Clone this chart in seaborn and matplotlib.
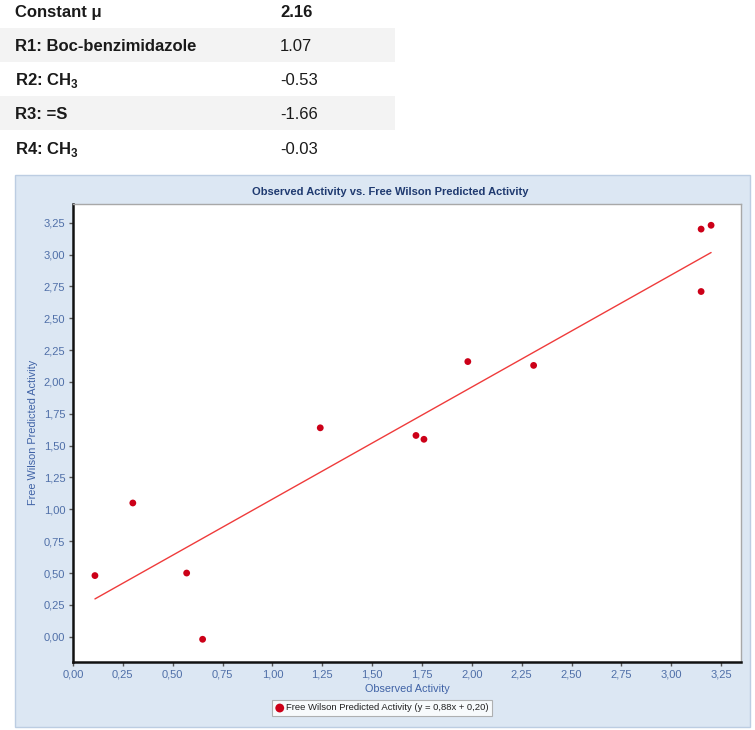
import matplotlib
matplotlib.use("Agg")
import matplotlib.pyplot as plt
import seaborn as sns
import pandas as pd
from matplotlib.patches import Rectangle
from matplotlib.ticker import FuncFormatter, MultipleLocator

# Free Wilson contributions (table above the chart)
term_labels = ["Constant μ", "R1: Boc-benzimidazole", r"R2: CH$_\mathregular{3}$",
               "R3: =S", r"R4: CH$_\mathregular{3}$"]
term_values = ["2.16", "1.07", "-0.53", "-1.66", "-0.03"]

# scatter data
observed = [0.11, 0.30, 0.57, 0.65, 1.24, 1.72, 1.76, 1.98, 2.31, 3.15, 3.15, 3.20]
predicted = [0.48, 1.05, 0.50, -0.02, 1.64, 1.58, 1.55, 2.16, 2.13, 3.20, 2.71, 3.23]
slope = 0.88
intercept = 0.20

W, H = 755, 730

sns.set_theme(style="white")
plt.rcParams["font.family"] = ["Liberation Sans", "DejaVu Sans"]

fig = plt.figure(figsize=(W / 100, H / 100), dpi=100)
fig.patch.set_facecolor("white")


def fx(px):
    return px / W


def fy(py):
    return 1 - py / H


# ---- table ----
row_y = [11, 45, 79, 113, 148]
for i, (lab, val) in enumerate(zip(term_labels, term_values)):
    if i % 2 == 1:
        fig.patches.append(Rectangle((0, fy(row_y[i] + 17)), fx(395), 34 / H,
                                     transform=fig.transFigure, facecolor="#f3f3f3",
                                     edgecolor="none", zorder=-2))
    fig.text(fx(15), fy(row_y[i] + 6), lab, fontsize=12, fontweight="bold",
             color="#1a1a1a", va="baseline", ha="left")
    fig.text(fx(280), fy(row_y[i] + 6), val, fontsize=12,
             fontweight="bold" if i == 0 else "normal",
             color="#1a1a1a", va="baseline", ha="left")

# ---- chart panel ----
fig.patches.append(Rectangle((fx(15), fy(727)), fx(750) - fx(15), (727 - 175) / H,
                             transform=fig.transFigure, facecolor="#dce7f3",
                             edgecolor="#bccde2", linewidth=1, zorder=-2))

fig.text(fx(390), fy(192), "Observed Activity vs. Free Wilson Predicted Activity",
         fontsize=8, fontweight="bold", color="#1f3a70", ha="center", va="center",
         family=["Liberation Sans Narrow", "Liberation Sans", "DejaVu Sans"])

ax = fig.add_axes([fx(73), fy(661.7), fx(741) - fx(73), (661.7 - 204) / H])
ax.set_zorder(1)
ax.set_facecolor("white")

df = pd.DataFrame({"Observed Activity": observed, "Free Wilson Predicted Activity": predicted})
sns.scatterplot(data=df, x="Observed Activity", y="Free Wilson Predicted Activity",
                color="#cc0018", s=24, edgecolor="none", ax=ax, zorder=3,
                label="Free Wilson Predicted Activity (y = 0,88x + 0,20)", legend=False)

x_fit = [min(observed), max(observed)]
y_fit = [slope * v + intercept for v in x_fit]
ax.plot(x_fit, y_fit, color="#ef3b3b", linewidth=1.0, zorder=2)

ax.set_xlim(0, 3.35)
ax.set_ylim(-0.196, 3.397)
ax.xaxis.set_major_locator(MultipleLocator(0.25))
ax.yaxis.set_major_locator(MultipleLocator(0.25))
comma = FuncFormatter(lambda v, p: f"{v:.2f}".replace(".", ",").replace("-0,00", "0,00"))
ax.xaxis.set_major_formatter(comma)
ax.yaxis.set_major_formatter(comma)
ax.tick_params(axis="both", which="major", direction="out", length=3, width=1,
               color="#555555", labelcolor="#4f6fa8", labelsize=8, pad=2.5,
               bottom=True, left=True)

for side in ["left", "bottom"]:
    ax.spines[side].set_color("#111111")
    ax.spines[side].set_linewidth(1.8)
for side in ["top", "right"]:
    ax.spines[side].set_color("#a8a8a8")
    ax.spines[side].set_linewidth(1.0)

ax.set_xlabel("Observed Activity", fontsize=7.8, color="#3f62a6", labelpad=3)
ax.set_ylabel("Free Wilson Predicted Activity", fontsize=7.8, color="#3f62a6", labelpad=4)
ax.grid(False)

handles, labels = ax.get_legend_handles_labels()
leg = fig.legend(handles, labels, loc="center", bbox_to_anchor=(fx(382), fy(708)),
                 fontsize=6.8, frameon=True, fancybox=False, edgecolor="#a0a0a0",
                 handletextpad=0.2, borderpad=0.35, handlelength=1.0, markerscale=1.3)
leg.get_frame().set_linewidth(0.8)
for t in leg.get_texts():
    t.set_color("#222222")

fig.savefig("out.png", dpi=100)
